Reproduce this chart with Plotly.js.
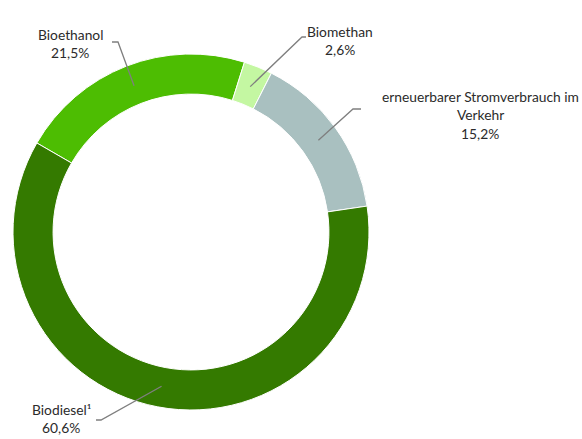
<!DOCTYPE html>
<html>
<head>
<meta charset="utf-8">
<script src="https://cdn.plot.ly/plotly-3.0.1.min.js"></script>
<style>html,body{margin:0;padding:0;background:#fff}#chart{width:582px;height:439px}</style>
</head>
<body>
<div id="chart"></div>
<script>
// ---- data ----
const labels = ["Bioethanol", "Biomethan", "erneuerbarer Stromverbrauch im Verkehr", "Biodiesel¹"];
const labelLines = [["Bioethanol"], ["Biomethan"], ["erneuerbarer Stromverbrauch im", "Verkehr"], ["Biodiesel¹"]];
const values = [21.5, 2.6, 15.2, 60.6];
const colors = ["#4dbd02", "#c4f7a2", "#a9c0c0", "#347a00"];

// ---- layout constants (pixels) ----
const W = 582, H = 439;
const cx = 191, cy = 232, R = 178, hole = 0.775;
const rotation = -60;
const attachR = 157;
// label placement: text centre x, first line y, elbow point, line end
const labelPos = [
  {tx: 70,  ty: 34,  ex: 118, ey: 42,  endx: 112},
  {tx: 340, ty: 31,  ex: 302, ey: 37,  endx: 306},
  {tx: 480, ty: 96,  ex: 353, ey: 109, endx: 361},
  {tx: 61,  ty: 409, ex: 101, ey: 420, endx: 96}
];
const lineGap = 18.5;

const px = x => x / W;
const py = y => 1 - y / H;

const total = values.reduce((a, b) => a + b, 0);
const fmt = v => v.toFixed(1).replace('.', ',') + '%';

const annotations = [];
const shapes = [];
let cum = 0;
values.forEach((v, i) => {
  const mid = (rotation + 360 * (cum + v / 2) / total) * Math.PI / 180;
  cum += v;
  const ax = cx + attachR * Math.sin(mid);
  const ay = cy - attachR * Math.cos(mid);
  const p = labelPos[i];
  shapes.push({
    type: 'path', xref: 'paper', yref: 'paper',
    path: `M ${px(ax)} ${py(ay)} L ${px(p.ex)} ${py(p.ey)} L ${px(p.endx)} ${py(p.ey)}`,
    line: {color: '#7f7f7f', width: 1.3}
  });
  const lines = labelLines[i].concat([fmt(v)]);
  lines.forEach((t, k) => {
    annotations.push({
      xref: 'paper', yref: 'paper', x: px(p.tx), y: py(p.ty + k * lineGap),
      xanchor: 'center', yanchor: 'middle', showarrow: false, text: t,
      font: {family: 'Lato, "Open Sans", sans-serif', size: 13.8, color: '#2b2b2b'}
    });
  });
});

const trace = {
  type: 'pie', labels: labels, values: values, sort: false,
  direction: 'clockwise', rotation: rotation, hole: hole,
  marker: {colors: colors, line: {color: '#ffffff', width: 1}},
  textinfo: 'none', hoverinfo: 'none', showlegend: false,
  domain: {x: [px(cx - R), px(cx + R)], y: [py(cy + R), py(cy - R)]}
};

Plotly.newPlot('chart', [trace], {
  width: W, height: H, margin: {l: 0, r: 0, t: 0, b: 0},
  paper_bgcolor: '#ffffff', showlegend: false,
  annotations: annotations, shapes: shapes
}, {displayModeBar: false, staticPlot: true});
</script>
</body>
</html>
